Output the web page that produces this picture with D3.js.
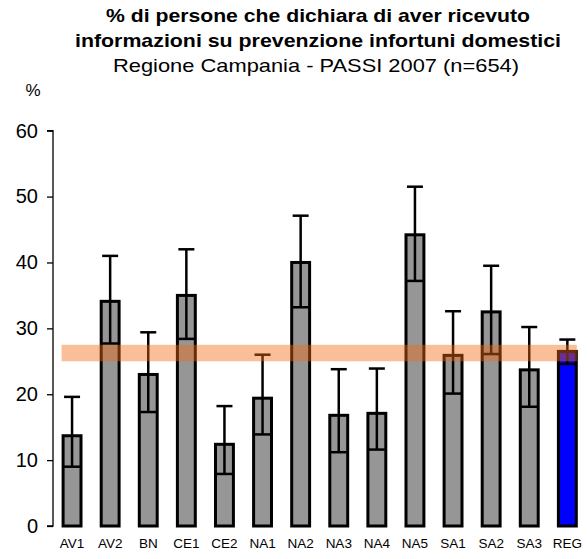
<!DOCTYPE html>
<html>
<head>
<meta charset="utf-8">
<script src="https://cdn.jsdelivr.net/npm/d3@7"></script>
<style>
  html, body { margin: 0; padding: 0; background: #fff; }
  svg { display: block; font-family: "Liberation Sans", Arial, sans-serif; }
</style>
</head>
<body>
<div id="chart"></div>
<script>
const categories = ["AV1","AV2","BN","CE1","CE2","NA1","NA2","NA3","NA4","NA5","SA1","SA2","SA3","REG"];
const values     = [13.7, 34.1, 23.0, 35.0, 12.4, 19.4, 40.0, 16.8, 17.1, 44.2, 25.9, 32.5, 23.7, 26.5];
const lower      = [9.0, 27.7, 17.3, 28.4, 7.9, 13.9, 33.2, 11.2, 11.6, 37.2, 20.1, 26.1, 18.1, 24.6];
const upper      = [19.6, 41.0, 29.4, 42.0, 18.2, 26.0, 47.1, 23.8, 23.9, 51.5, 32.6, 39.5, 30.2, 28.3];
const regionBand = [25.0, 27.5];
const yTicks     = [0, 10, 20, 30, 40, 50, 60];
const titleLines = ["% di persone che dichiara di aver ricevuto", "informazioni su prevenzione infortuni domestici"];
const subtitle   = "Regione Campania - PASSI 2007 (n=654)";
const yLabel     = "%";

const W = 588, H = 559;
const svg = d3.select("#chart").append("svg").attr("width", W).attr("height", H);

const x = d3.scaleBand().domain(categories).range([53, 586.4]).paddingInner(0.53).paddingOuter(0.265);
const y = d3.scaleLinear().domain([0, 60]).range([526, 130.7]);

// titles
const cx = 318;
svg.append("text").attr("x", cx).attr("y", 21.5).attr("text-anchor", "middle")
  .attr("font-weight", "bold").attr("font-size", 19)
  .attr("textLength", 424).attr("lengthAdjust", "spacingAndGlyphs").text(titleLines[0]);
svg.append("text").attr("x", cx).attr("y", 47).attr("text-anchor", "middle")
  .attr("font-weight", "bold").attr("font-size", 19)
  .attr("textLength", 486).attr("lengthAdjust", "spacingAndGlyphs").text(titleLines[1]);
svg.append("text").attr("x", 316).attr("y", 72).attr("text-anchor", "middle")
  .attr("font-size", 19)
  .attr("textLength", 406).attr("lengthAdjust", "spacingAndGlyphs").text(subtitle);
svg.append("text").attr("x", 33).attr("y", 96).attr("text-anchor", "middle")
  .attr("font-size", 17).text(yLabel);

// y axis
const yAxis = d3.axisLeft(y).tickValues(yTicks).tickSize(6).tickPadding(9).tickFormat(d3.format("d"));
const gy = svg.append("g").attr("transform", "translate(53,0)").call(yAxis);
gy.select(".domain").attr("stroke", "#000").attr("stroke-width", 1.3).attr("d", `M-6,${y(60)}H0V${y(0)}H-6`);
gy.selectAll(".tick line").attr("stroke", "#000").attr("stroke-width", 1.3);
gy.selectAll(".tick text").attr("font-size", 20).attr("fill", "#000")
  .attr("font-family", "Liberation Sans, Arial, sans-serif");

// x labels
const xAxis = d3.axisBottom(x).tickSize(0).tickPadding(0);
const gx = svg.append("g").attr("transform", "translate(0,538)").call(xAxis);
gx.select(".domain").remove();
gx.selectAll(".tick text").attr("font-size", 13.5).attr("fill", "#000")
  .attr("font-family", "Liberation Sans, Arial, sans-serif");

// bars
svg.append("g").selectAll("rect").data(categories).join("rect")
  .attr("x", d => x(d))
  .attr("y", (d, i) => y(values[i]))
  .attr("width", x.bandwidth())
  .attr("height", (d, i) => y(0) - y(values[i]))
  .attr("fill", d => d === "REG" ? "#0000ff" : "#969696")
  .attr("stroke", "#000").attr("stroke-width", 3);

// error bars
const eb = svg.append("g").attr("stroke", "#000").attr("stroke-width", 2.5);
categories.forEach((c, i) => {
  const xc = x(c) + x.bandwidth() / 2;
  eb.append("line").attr("x1", xc).attr("x2", xc).attr("y1", y(lower[i])).attr("y2", y(upper[i]));
  eb.append("line").attr("x1", xc - 8).attr("x2", xc + 8).attr("y1", y(lower[i])).attr("y2", y(lower[i]));
  eb.append("line").attr("x1", xc - 8).attr("x2", xc + 8).attr("y1", y(upper[i])).attr("y2", y(upper[i]));
});

// regional band
const first = categories[0], last = categories[categories.length - 1];
svg.append("rect")
  .attr("x", x(first) - 1.5)
  .attr("width", x(last) + x.bandwidth() + 1.5 - (x(first) - 1.5) - 1)
  .attr("y", y(regionBand[1]))
  .attr("height", y(regionBand[0]) - y(regionBand[1]))
  .attr("fill", "#f46a10").attr("fill-opacity", 0.43);
</script>
</body>
</html>
